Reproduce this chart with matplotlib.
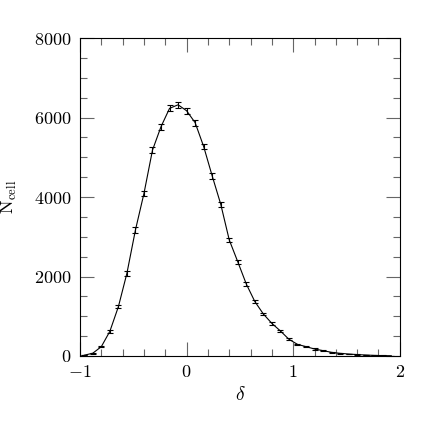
import numpy as np
import matplotlib
matplotlib.use('Agg')
import matplotlib.pyplot as plt
from matplotlib.ticker import MultipleLocator

plt.rcParams['font.family'] = 'serif'
plt.rcParams['font.serif'] = ['cmr10', 'DejaVu Serif']
plt.rcParams['mathtext.fontset'] = 'cm'
plt.rcParams['axes.formatter.use_mathtext'] = True

# centros de bin en delta y cuentas
delta = [-0.96, -0.88, -0.80, -0.72, -0.64, -0.56, -0.48, -0.40, -0.32, -0.24,
         -0.16, -0.08, 0.00, 0.08, 0.16, 0.24, 0.32, 0.40, 0.48, 0.56,
         0.64, 0.72, 0.80, 0.88, 0.96, 1.04, 1.12, 1.20, 1.28, 1.36,
         1.44, 1.52, 1.60, 1.68, 1.76, 1.84, 1.92]
n_cell = [20, 70, 235, 620, 1240, 2080, 3170, 4090, 5180, 5770,
          6230, 6320, 6170, 5870, 5270, 4530, 3820, 2920, 2370, 1810,
          1370, 1057, 820, 630, 420, 293, 235, 176, 134, 92,
          67, 50, 35, 25, 15, 10, 6]
err = [5, 10, 18, 30, 45, 55, 65, 70, 75, 75,
       78, 80, 78, 75, 72, 68, 62, 55, 50, 45,
       40, 35, 30, 26, 22, 18, 16, 14, 12, 10,
       8, 7, 6, 5, 4, 3, 3]

fig = plt.figure(figsize=(4.36, 4.36), dpi=100)
ax = fig.add_axes([0.1835, 0.1835, 0.7335, 0.7293])

ax.plot(delta, n_cell, color='black', lw=0.8)
ax.errorbar(delta, n_cell, yerr=err, fmt='none', ecolor='black',
            elinewidth=0.8, capsize=2.5, capthick=0.8)

ax.set_xlim(-1, 2)
ax.set_ylim(0, 8000)
ax.xaxis.set_major_locator(MultipleLocator(1))
ax.xaxis.set_minor_locator(MultipleLocator(0.2))
ax.yaxis.set_major_locator(MultipleLocator(2000))
ax.yaxis.set_minor_locator(MultipleLocator(500))
ax.tick_params(which='both', direction='in', top=True, right=True,
               labelsize=13, color='0.4', width=0.8)
ax.tick_params(which='major', length=10, pad=6)
ax.tick_params(which='minor', length=5)
for s in ax.spines.values():
    s.set_linewidth(0.8)

ax.set_xlabel(r'$\delta$', fontsize=14)
ax.set_ylabel(r'$\mathrm{N_{cell}}$', fontsize=13)
ax.yaxis.set_label_coords(-0.19, 0.5)

fig.savefig('out.png', dpi=100)
